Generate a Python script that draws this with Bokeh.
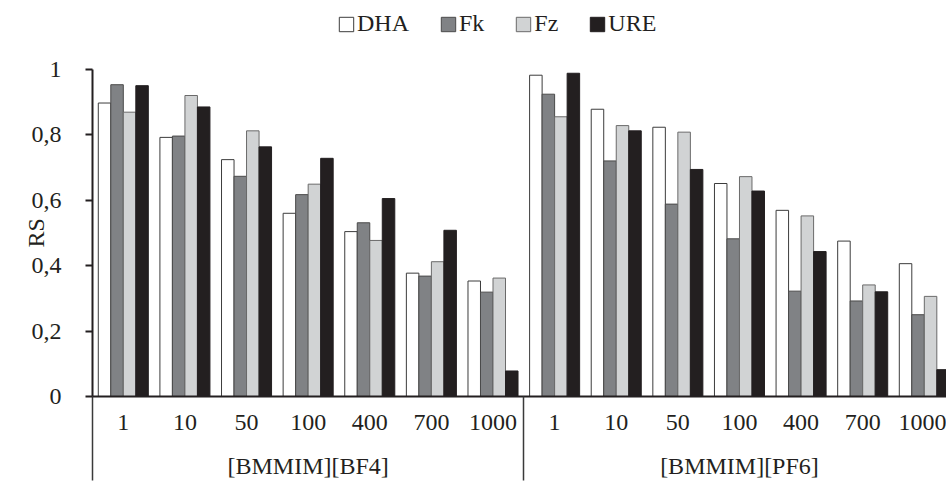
from bokeh.plotting import figure
from bokeh.models import (Range1d, LinearAxis, FixedTicker, CustomJSTickFormatter,
                          Legend, LegendItem, ColumnDataSource)
from bokeh.embed import file_html
from bokeh.resources import INLINE

groups = ["[BMMIM][BF4]", "[BMMIM][PF6]"]
concentrations = ["1", "10", "50", "100", "400", "700", "1000"]
series = ["DHA", "Fk", "Fz", "URE"]
y_title = "RS"

dha = [0.897, 0.792, 0.724, 0.560, 0.504, 0.377, 0.353,
       0.982, 0.878, 0.823, 0.651, 0.569, 0.475, 0.406]
fk = [0.953, 0.796, 0.673, 0.617, 0.531, 0.368, 0.319,
      0.924, 0.720, 0.588, 0.482, 0.322, 0.292, 0.250]
fz = [0.869, 0.920, 0.812, 0.649, 0.477, 0.412, 0.362,
      0.855, 0.828, 0.808, 0.672, 0.552, 0.341, 0.306]
ure = [0.950, 0.885, 0.763, 0.728, 0.605, 0.508, 0.078,
       0.988, 0.812, 0.694, 0.628, 0.443, 0.320, 0.082]

fill_colors = ["#ffffff", "#808285", "#d1d3d4", "#231f20"]
line_colors = ["#3c3c3c", "#4a4a4a", "#6a6a6a", "#231f20"]

labels_all = concentrations * len(groups)
n_cat = len(labels_all)
bar_w = 0.203

FONT = "Liberation Serif"
FS = "24px"
TXT = "#231f20"

# frame spans the full height above the x axis; the y axis itself is bounded to 0..1
p = figure(width=946, height=481, x_range=Range1d(0, 13.86), y_range=Range1d(0, 397 / 328),
           output_backend="svg", toolbar_location=None, x_axis_type=None,
           min_border_left=92, min_border_right=0, min_border_top=0, min_border_bottom=84)
p.outline_line_color = None
p.ygrid.visible = False
p.background_fill_color = "white"

renderers = []
for k, (name, vals) in enumerate(zip(series, [dha, fk, fz, ure])):
    xs = [i + 0.5 + (k - 1.5) * bar_w for i in range(n_cat)]
    src = ColumnDataSource(dict(x=xs, top=vals))
    r = p.vbar(x="x", top="top", bottom=0, width=bar_w, source=src,
               fill_color=fill_colors[k], line_color=line_colors[k], line_width=1)
    renderers.append(r)

# y axis
ya = p.yaxis[0]
ya.bounds = (0, 1)
ya.ticker = FixedTicker(ticks=[0, 0.2, 0.4, 0.6, 0.8, 1])
ya.formatter = CustomJSTickFormatter(code="return (Math.round(tick*10)/10).toString().replace('.', ',')")
ya.major_tick_out = 7
ya.major_tick_in = 0
ya.minor_tick_line_color = None
ya.axis_line_width = 2
ya.axis_line_color = TXT
ya.major_tick_line_width = 2
ya.major_tick_line_color = TXT
ya.major_label_text_font = FONT
ya.major_label_text_font_size = FS
ya.major_label_text_color = TXT
ya.major_label_standoff = 24

# y title as a single rotated tick label centred on the 0..1 span
ya_title = LinearAxis(
    ticker=FixedTicker(ticks=[0.5]),
    formatter=CustomJSTickFormatter(args=dict(t=y_title), code="return t"),
    major_label_orientation="vertical",
    major_tick_out=0, major_tick_in=0, major_tick_line_color=None,
    minor_tick_line_color=None, axis_line_color=None,
    major_label_text_font=FONT, major_label_text_font_size=FS,
    major_label_text_color=TXT, major_label_standoff=-21)
p.add_layout(ya_title, "left")

# x axis: concentrations + group separators (minor ticks)
ax1 = LinearAxis(
    ticker=FixedTicker(ticks=[i + 0.5 for i in range(n_cat)],
                       minor_ticks=[len(concentrations) * g for g in range(len(groups))]),
    formatter=CustomJSTickFormatter(args=dict(labels=labels_all),
                                    code="return labels[Math.floor(tick)]"),
    major_tick_out=0, major_tick_in=0, major_tick_line_color=None,
    minor_tick_out=84, minor_tick_in=0, minor_tick_line_color="#3a3a3a", minor_tick_line_width=1.5,
    axis_line_width=2, axis_line_color=TXT,
    major_label_text_font=FONT, major_label_text_font_size=FS,
    major_label_text_color=TXT, major_label_standoff=-66)
p.add_layout(ax1, "below")

ax2 = LinearAxis(
    ticker=FixedTicker(ticks=[len(concentrations) * (g + 0.5) for g in range(len(groups))]),
    formatter=CustomJSTickFormatter(args=dict(groups=groups, n=len(concentrations)),
                                    code="return groups[Math.floor(tick / n)]"),
    major_tick_out=0, major_tick_in=0, major_tick_line_color=None,
    minor_tick_line_color=None, axis_line_color=None,
    major_label_text_font=FONT, major_label_text_font_size=FS,
    major_label_text_color=TXT, major_label_standoff=20)
p.add_layout(ax2, "below")

legend = Legend(items=[LegendItem(label=s, renderers=[r]) for s, r in zip(series, renderers)],
                orientation="horizontal", location=(245, 359),
                glyph_width=18, glyph_height=18, label_standoff=2, spacing=30,
                padding=0, margin=0, border_line_color=None, background_fill_alpha=0,
                label_text_font=FONT, label_text_font_size=FS, label_text_color=TXT,
                label_text_font_style="normal")
p.add_layout(legend)

open("out.html", "w").write(file_html(p, INLINE))
